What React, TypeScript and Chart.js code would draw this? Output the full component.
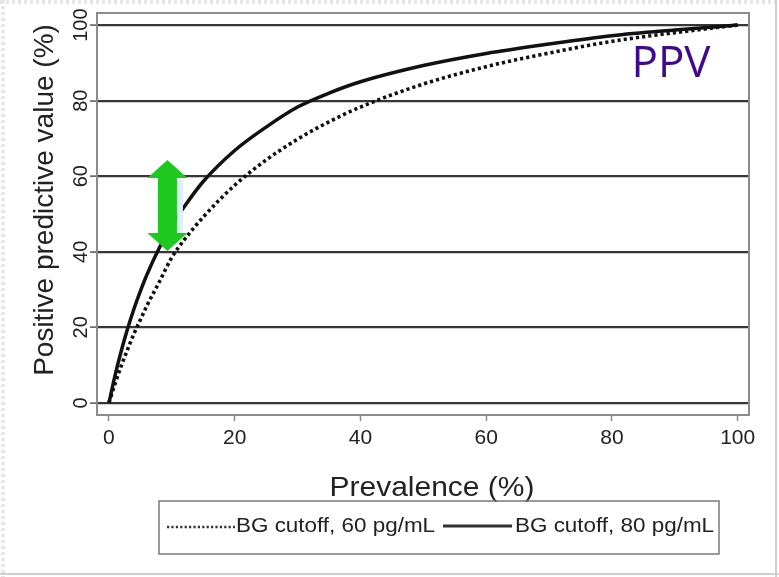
import React, { useEffect, useRef } from "react";
import { Chart, registerables } from "chart.js";

Chart.register(...registerables);

// ---- data ----
const prevalence = [0, 1, 2, 3, 4, 5, 6, 8, 10, 12, 15, 20, 25, 30, 35, 40, 50, 60, 70, 80, 90, 100];
const ppvCutoff60 = [0, 5.2, 10, 14.3, 18.4, 22, 25.6, 32, 38.5, 43.2, 49.2, 57.6, 64.3, 69.8, 74.4, 78.3, 84.4, 89, 92.6, 95.7, 98, 100];
const ppvCutoff80 = [0, 7.5, 14, 19.8, 25, 29.6, 33.8, 41, 47, 52, 58.6, 66.8, 73, 78.3, 82, 85, 89.3, 92.5, 95, 97.2, 98.7, 100];
const xTicks = [0, 20, 40, 60, 80, 100];
const yTicks = [0, 20, 40, 60, 80, 100];
const seriesLabels = ["BG cutoff, 60 pg/mL", "BG cutoff, 80 pg/mL"];
const xTitle = "Prevalence (%)";
const yTitle = "Positive predictive value (%)";
const annotationText = "PPV";
const arrowX = 9.3;
const arrowFrom = 40.2;
const arrowTo = 64.3;

const FONT = "'Liberation Sans', Arial, Helvetica, sans-serif";

function stretchedText(
  ctx: CanvasRenderingContext2D,
  text: string,
  x: number,
  y: number,
  size: number,
  sx: number,
  align: CanvasTextAlign,
  color: string,
  rot = 0,
  family = FONT
) {
  ctx.save();
  ctx.translate(x, y);
  if (rot) ctx.rotate(rot);
  ctx.scale(sx, 1);
  ctx.font = `${size}px ${family}`;
  ctx.fillStyle = color;
  ctx.textAlign = align;
  ctx.textBaseline = "middle";
  ctx.fillText(text, 0, 0);
  ctx.restore();
}

const decorPlugin = {
  id: "decor",
  beforeDraw(chart: any) {
    const { ctx, width, height } = chart;
    ctx.save();
    ctx.fillStyle = "#ffffff";
    ctx.fillRect(0, 0, width, height);
    // faint page edges
    ctx.strokeStyle = "#e6e6e6";
    ctx.lineWidth = 4;
    ctx.setLineDash([3, 3]);
    ctx.beginPath();
    ctx.moveTo(3, 0);
    ctx.lineTo(3, height);
    ctx.moveTo(0, 2);
    ctx.lineTo(width, 2);
    ctx.stroke();
    ctx.setLineDash([]);
    ctx.strokeStyle = "#cfcfcf";
    ctx.lineWidth = 2;
    ctx.beginPath();
    ctx.moveTo(width - 3, 0);
    ctx.lineTo(width - 3, height);
    ctx.moveTo(0, height - 3);
    ctx.lineTo(width, height - 3);
    ctx.stroke();
    ctx.restore();
  },
  beforeDatasetsDraw(chart: any) {
    const { ctx, chartArea: a } = chart;
    ctx.save();
    ctx.strokeStyle = "#8c8c8c";
    ctx.lineWidth = 2;
    ctx.strokeRect(a.left, a.top, a.right - a.left, a.bottom - a.top);
    ctx.restore();
  },
  afterDatasetsDraw(chart: any) {
    const { ctx } = chart;
    const xs = chart.scales.x;
    const ys = chart.scales.y;
    const cx = xs.getPixelForValue(arrowX);
    const yTop = ys.getPixelForValue(arrowTo);
    const yBot = ys.getPixelForValue(arrowFrom);
    const headW = 20;
    const headH = 18;
    const shaftW = 9.5;
    ctx.save();
    ctx.fillStyle = "#dcf0f6";
    ctx.fillRect(cx + shaftW, yTop + headH + 2, 6, yBot - yTop - 2 * headH - 2);
    ctx.fillStyle = "#1ec81e";
    ctx.beginPath();
    ctx.moveTo(cx, yTop);
    ctx.lineTo(cx + headW, yTop + headH);
    ctx.lineTo(cx + shaftW, yTop + headH);
    ctx.lineTo(cx + shaftW, yBot - headH);
    ctx.lineTo(cx + headW, yBot - headH);
    ctx.lineTo(cx, yBot);
    ctx.lineTo(cx - headW, yBot - headH);
    ctx.lineTo(cx - shaftW, yBot - headH);
    ctx.lineTo(cx - shaftW, yTop + headH);
    ctx.lineTo(cx - headW, yTop + headH);
    ctx.closePath();
    ctx.fill();
    ctx.restore();

    // PPV annotation
    ctx.save();
    ctx.font = `44px 'Open Sans', 'Noto Sans', sans-serif`;
    ctx.fillStyle = "#3f0b8a";
    ctx.textAlign = "center";
    ctx.textBaseline = "alphabetic";
    ctx.fillText(annotationText, 671, 77);
    ctx.restore();
  },
  afterDraw(chart: any) {
    const { ctx } = chart;
    // axis titles
    stretchedText(ctx, xTitle, 432, 488, 28, 1.07, "center", "#222");
    stretchedText(ctx, yTitle, 45, 200, 28, 1, "center", "#222", -Math.PI / 2);

    // legend
    ctx.save();
    ctx.strokeStyle = "#7a7a7a";
    ctx.lineWidth = 1.5;
    ctx.strokeRect(159, 501, 560, 53);
    const ly = 527;
    ctx.strokeStyle = "#333";
    ctx.lineWidth = 2.4;
    ctx.setLineDash([2.2, 2.2]);
    ctx.beginPath();
    ctx.moveTo(167, ly);
    ctx.lineTo(235, ly);
    ctx.stroke();
    ctx.setLineDash([]);
    ctx.lineWidth = 2.8;
    ctx.beginPath();
    ctx.moveTo(443, ly - 1);
    ctx.lineTo(512, ly - 1);
    ctx.stroke();
    ctx.restore();
    stretchedText(ctx, seriesLabels[0], 236, ly, 19.5, 1.15, "left", "#222");
    stretchedText(ctx, seriesLabels[1], 515, ly, 19.5, 1.15, "left", "#222");
  },
};

export default function App() {
  const canvasRef = useRef<HTMLCanvasElement | null>(null);

  useEffect(() => {
    if (!canvasRef.current) return;
    const chart = new Chart(canvasRef.current, {
      type: "line",
      data: {
        datasets: [
          {
            label: seriesLabels[0],
            data: prevalence.map((p, i) => ({ x: p, y: ppvCutoff60[i] })),
            borderColor: "#111",
            borderWidth: 3.6,
            borderDash: [3.2, 3],
            borderCapStyle: "butt",
            pointRadius: 0,
            fill: false,
            cubicInterpolationMode: "monotone",
          },
          {
            label: seriesLabels[1],
            data: prevalence.map((p, i) => ({ x: p, y: ppvCutoff80[i] })),
            borderColor: "#111",
            borderWidth: 3.5,
            pointRadius: 0,
            fill: false,
            cubicInterpolationMode: "monotone",
          },
        ],
      },
      options: {
        animation: false,
        responsive: false,
        maintainAspectRatio: false,
        layout: { padding: { left: 0, top: 13, right: 30, bottom: 0 } },
        plugins: {
          legend: { display: false },
          tooltip: { enabled: false },
          title: { display: false },
        },
        scales: {
          x: {
            type: "linear",
            min: -1.9,
            max: 101.8,
            afterBuildTicks: (scale: any) => {
              scale.ticks = xTicks.map((v) => ({ value: v }));
            },
            afterFit: (scale: any) => {
              scale.height = 162;
            },
            grid: {
              drawOnChartArea: false,
              drawTicks: true,
              tickLength: 6,
              tickColor: "#8a8a8a",
              tickWidth: 1.5,
            },
            border: { display: false },
            ticks: {
              color: "#222",
              font: { family: FONT, size: 21 },
              padding: 5,
              maxRotation: 0,
              autoSkip: false,
            },
          },
          y: {
            type: "linear",
            min: -3.2,
            max: 103.2,
            afterBuildTicks: (scale: any) => {
              scale.ticks = yTicks.map((v) => ({ value: v }));
            },
            afterFit: (scale: any) => {
              scale.width = 97;
            },
            grid: {
              color: "#363636",
              lineWidth: 2.2,
              drawTicks: true,
              tickLength: 7,
              tickColor: "#555",
              tickWidth: 1.5,
            },
            border: { display: false },
            ticks: {
              color: "#222",
              font: { family: FONT, size: 20 },
              minRotation: 90,
              maxRotation: 90,
              crossAlign: "center",
              padding: -8,
              autoSkip: false,
            },
          },
        },
      } as any,
      plugins: [decorPlugin],
    });
    return () => chart.destroy();
  }, []);

  return (
    <div
      style={{
        position: "fixed",
        left: 0,
        top: 0,
        width: 779,
        height: 577,
        background: "#fff",
      }}
    >
      <canvas ref={canvasRef} width={779} height={577} style={{ display: "block" }} />
    </div>
  );
}
